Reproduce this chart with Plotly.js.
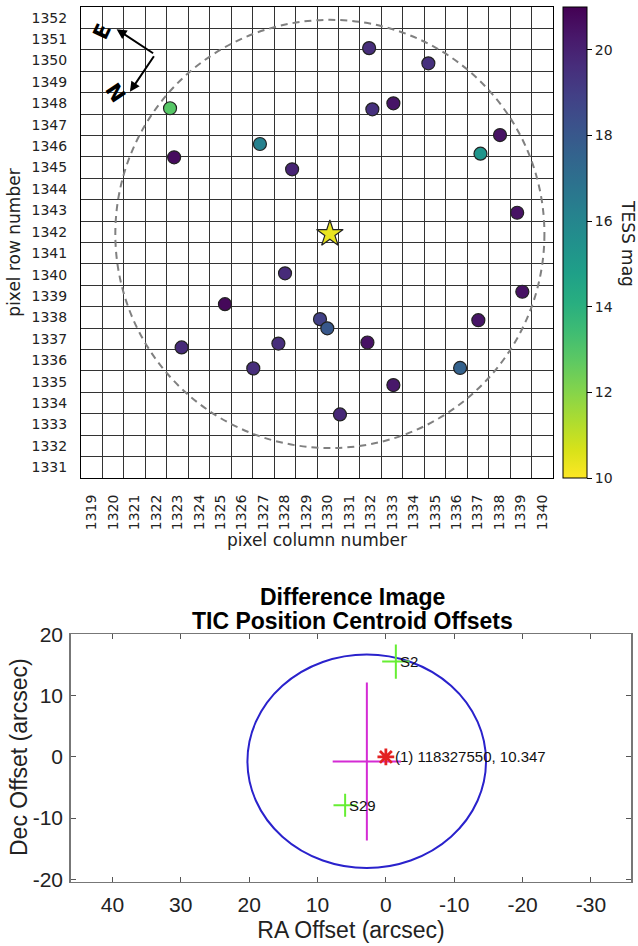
<!DOCTYPE html>
<html><head><meta charset="utf-8">
<script src="https://cdn.plot.ly/plotly-3.0.1.min.js"></script>
<style>html,body{margin:0;padding:0;background:#fff}#chart{width:638px;height:946px}</style>
</head><body><div id="chart"></div>
<script>
// ---------- Top panel: TESS target pixel field ----------
const starCol = [1331.93, 1334.69, 1332.08, 1333.06, 1338.03, 1337.12, 1338.83, 1322.65, 1322.84, 1326.84, 1328.34, 1328.01,
                 1325.21, 1323.19, 1326.53, 1327.70, 1329.64, 1329.98, 1331.85, 1333.06, 1330.57, 1336.17, 1337.02, 1339.07];
const starRow = [1350.58, 1349.87, 1347.72, 1348.00, 1346.52, 1345.65, 1342.89, 1347.77, 1345.48, 1346.10, 1344.92, 1340.06,
                 1338.62, 1336.60, 1335.62, 1336.78, 1337.92, 1337.49, 1336.83, 1334.84, 1333.47, 1335.64, 1337.87, 1339.20];
const starMag = [19.6, 19.5, 19.5, 20.4, 20.5, 15.3, 20.5, 12.9, 20.7, 16.2, 19.9, 19.7,
                 20.8, 19.7, 19.6, 19.6, 18.9, 18.0, 20.5, 20.3, 19.8, 17.6, 20.4, 20.5];
const targetCol = [1330.1];
const targetRow = [1341.9];
const targetMag = [10.347];
const apertureRadius = 10;
const colTicks = [1319,1320,1321,1322,1323,1324,1325,1326,1327,1328,1329,1330,1331,1332,1333,1334,1335,1336,1337,1338,1339,1340];
const rowTicks = [1331,1332,1333,1334,1335,1336,1337,1338,1339,1340,1341,1342,1343,1344,1345,1346,1347,1348,1349,1350,1351,1352];
const magTicks = [10, 12, 14, 16, 18, 20];
const magRange = [10, 21];
// compass (arrow heads in pixel-grid coordinates, tails as pixel offsets)
const compassLabels = ['E', 'N'];
const compassHeadCol = [1320.16, 1320.78];
const compassHeadRow = [1351.46, 1348.54];
const compassTailDx = [38, 25];
const compassTailDy = [25, -37];
const compassTextCol = [1319.47, 1320.09];
const compassTextRow = [1351.35, 1348.47];
const compassTextAngle = [-65, 56];

// ---------- Bottom panel: difference image centroid offsets ----------
const ticRa = [0], ticDec = [0], ticLabel = ['(1) 118327550, 10.347'];
const centroidRa = [2.78], centroidDec = [-0.75], centroidErrRa = [5.0], centroidErrDec = [12.9];
const sectorRa = [-1.46, 5.96], sectorDec = [15.6, -7.9];
const sectorErrRa = [2.0, 1.7], sectorErrDec = [2.8, 1.9];
const sectorLabel = ['S2', 'S29'];
const circleCenter = [2.8, -0.7], circleRadius = 17.45;
const raTicks = [40, 30, 20, 10, 0, -10, -20, -30];
const decTicks = [-20, -10, 0, 10, 20];

const halfCols = colTicks.map(v => v - 0.5).concat([colTicks[colTicks.length-1] + 0.5]);
const halfRows = rowTicks.map(v => v - 0.5).concat([rowTicks[rowTicks.length-1] + 0.5]);

const DJ = 'DejaVu Sans';
const AR = 'Liberation Sans, Arial';
const W = 638, H = 946;
const px = v => v / W, py = v => 1 - v / H;

const traces = [
  {
    type: 'scatter', mode: 'markers', x: starCol, y: starRow, xaxis: 'x', yaxis: 'y',
    marker: {
      size: 13, color: starMag, colorscale: 'Viridis', reversescale: true,
      cmin: magRange[0], cmax: magRange[1],
      line: {color: '#222', width: 1.2},
      colorbar: {
        x: px(563), xanchor: 'left', y: py(478), yanchor: 'bottom',
        len: 471 / H, lenmode: 'fraction', thickness: 24, thicknessmode: 'pixels',
        outlinewidth: 1, outlinecolor: '#000', xpad: 0, ypad: 0,
        tickvals: magTicks, ticks: 'outside', ticklen: 5, tickcolor: '#000',
        tickfont: {family: DJ, size: 14, color: '#222'}
      }
    },
    hoverinfo: 'skip', showlegend: false
  },
  {
    type: 'scatter', mode: 'markers', x: targetCol, y: targetRow, xaxis: 'x', yaxis: 'y',
    marker: {
      symbol: 'star', size: 20, color: targetMag, colorscale: 'Viridis', reversescale: true,
      cmin: magRange[0], cmax: magRange[1], showscale: false,
      line: {color: '#222', width: 1.2}
    },
    hoverinfo: 'skip', showlegend: false
  },
  // bottom panel
  {
    type: 'scatter', mode: 'markers', x: sectorRa, y: sectorDec, xaxis: 'x2', yaxis: 'y2',
    marker: {size: 1, color: 'rgba(0,0,0,0)'},
    error_x: {type: 'data', array: sectorErrRa, color: '#66ee33', thickness: 2, width: 0},
    error_y: {type: 'data', array: sectorErrDec, color: '#66ee33', thickness: 2, width: 0},
    hoverinfo: 'skip', showlegend: false
  },
  {
    type: 'scatter', mode: 'markers', x: centroidRa, y: centroidDec, xaxis: 'x2', yaxis: 'y2',
    marker: {size: 1, color: 'rgba(0,0,0,0)'},
    error_x: {type: 'data', array: centroidErrRa, color: '#d42bd4', thickness: 2, width: 0},
    error_y: {type: 'data', array: centroidErrDec, color: '#d42bd4', thickness: 2, width: 0},
    hoverinfo: 'skip', showlegend: false
  },
  {
    type: 'scatter', mode: 'markers', x: ticRa, y: ticDec, xaxis: 'x2', yaxis: 'y2',
    marker: {symbol: 'asterisk-open', size: 14, color: '#e32222', line: {color: '#e32222', width: 2.8}},
    hoverinfo: 'skip', showlegend: false
  }
];

const annotations = [];
for (let i = 0; i < compassLabels.length; i++) {
  annotations.push({
    xref: 'x', yref: 'y', x: compassHeadCol[i], y: compassHeadRow[i],
    ax: compassTailDx[i], ay: compassTailDy[i], showarrow: true,
    arrowhead: 2, arrowsize: 1, arrowwidth: 2, arrowcolor: '#000', text: ''
  });
  annotations.push({
    xref: 'x', yref: 'y', x: compassTextCol[i], y: compassTextRow[i], showarrow: false,
    text: '<b>' + compassLabels[i] + '</b>', textangle: compassTextAngle[i],
    font: {family: DJ, size: 21, color: '#000'}
  });
}
annotations.push({
  xref: 'paper', yref: 'paper', x: px(628), y: py(243), xanchor: 'center', yanchor: 'middle', showarrow: false,
  text: 'TESS mag', textangle: 90, font: {family: DJ, size: 17, color: '#222'}
});
annotations.push({
  xref: 'x2', yref: 'y2', x: ticRa[0], y: ticDec[0], xanchor: 'left', xshift: 7, showarrow: false,
  text: ticLabel[0], font: {family: AR, size: 15, color: '#111'}
});
for (let i = 0; i < sectorLabel.length; i++) {
  annotations.push({
    xref: 'x2', yref: 'y2', x: sectorRa[i], y: sectorDec[i], xanchor: 'left', xshift: 2, showarrow: false,
    text: sectorLabel[i], font: {family: AR, size: 15, color: '#111'}
  });
}
annotations.push({
  xref: 'paper', yref: 'paper', x: px(352), y: py(597), showarrow: false,
  text: '<b>Difference Image</b>', font: {family: AR, size: 23, color: '#000'}
});
annotations.push({
  xref: 'paper', yref: 'paper', x: px(352), y: py(621), showarrow: false,
  text: '<b>TIC Position Centroid Offsets</b>', font: {family: AR, size: 23, color: '#000'}
});
annotations.push({
  xref: 'paper', yref: 'paper', x: px(19), y: py(757), xanchor: 'center', yanchor: 'middle',
  showarrow: false, textangle: -90,
  text: 'Dec Offset (arcsec)', font: {family: AR, size: 23, color: '#222'}
});

const shapes = [
  {
    type: 'circle', xref: 'x', yref: 'y', layer: 'between',
    x0: targetCol[0] - apertureRadius, x1: targetCol[0] + apertureRadius,
    y0: targetRow[0] - apertureRadius, y1: targetRow[0] + apertureRadius,
    line: {color: '#808080', width: 2, dash: '7px,5px'}
  },
  {
    type: 'circle', xref: 'x2', yref: 'y2', layer: 'between',
    x0: circleCenter[0] - circleRadius, x1: circleCenter[0] + circleRadius,
    y0: circleCenter[1] - circleRadius, y1: circleCenter[1] + circleRadius,
    line: {color: '#2a22cc', width: 2}
  }
];

const layout = {
  width: W, height: H, margin: {l: 0, r: 0, t: 0, b: 0},
  paper_bgcolor: '#fff', plot_bgcolor: '#fff', showlegend: false,
  xaxis: {
    domain: [px(81), px(553)], range: [1318.5, 1340.5], anchor: 'y',
    tickmode: 'array', tickvals: colTicks, ticktext: colTicks.map(String), tickangle: -90,
    ticks: '', ticklabelstandoff: 10, showgrid: false, zeroline: false,
    minor: {tickmode: 'array', tickvals: halfCols, showgrid: true, gridcolor: '#333', gridwidth: 1, ticks: ''},
    showline: true, mirror: true, linecolor: '#000', linewidth: 1,
    tickfont: {family: DJ, size: 14, color: '#222'},
    title: {text: 'pixel column number', font: {family: DJ, size: 17, color: '#222'}, standoff: 3}
  },
  yaxis: {
    domain: [py(478), py(7)], range: [1330.5, 1352.5], anchor: 'x',
    tickmode: 'array', tickvals: rowTicks, ticktext: rowTicks.map(String),
    ticks: '', ticklabelstandoff: 10, showgrid: false, zeroline: false,
    minor: {tickmode: 'array', tickvals: halfRows, showgrid: true, gridcolor: '#333', gridwidth: 1, ticks: ''},
    showline: true, mirror: true, linecolor: '#000', linewidth: 1,
    tickfont: {family: DJ, size: 14, color: '#222'},
    title: {text: 'pixel row number', font: {family: DJ, size: 17, color: '#222'}, standoff: 6}
  },
  xaxis2: {
    domain: [px(70.7), px(631.3)], range: [46.1, -35.9], anchor: 'y2',
    tickmode: 'array', tickvals: raTicks, ticktext: raTicks.map(String),
    ticks: 'inside', ticklen: 5, tickcolor: '#555', tickwidth: 1, ticklabelstandoff: 4,
    showgrid: false, zeroline: false, showline: true, mirror: 'ticks', linecolor: '#777', linewidth: 1.5,
    tickfont: {family: AR, size: 21, color: '#222'},
    title: {text: 'RA Offset (arcsec)', font: {family: AR, size: 23, color: '#222'}, standoff: 6}
  },
  yaxis2: {
    domain: [py(881.7), py(634)], range: [-20.4, 20.1], anchor: 'x2',
    tickmode: 'array', tickvals: decTicks, ticktext: decTicks.map(String),
    ticks: 'inside', ticklen: 5, tickcolor: '#555', tickwidth: 1, ticklabelstandoff: 2,
    showgrid: false, zeroline: false, showline: true, mirror: 'ticks', linecolor: '#777', linewidth: 1.5,
    tickfont: {family: AR, size: 21, color: '#222'}
  },
  shapes: shapes,
  annotations: annotations
};

Plotly.newPlot('chart', traces, layout, {staticPlot: true, displayModeBar: false});
</script></body></html>
